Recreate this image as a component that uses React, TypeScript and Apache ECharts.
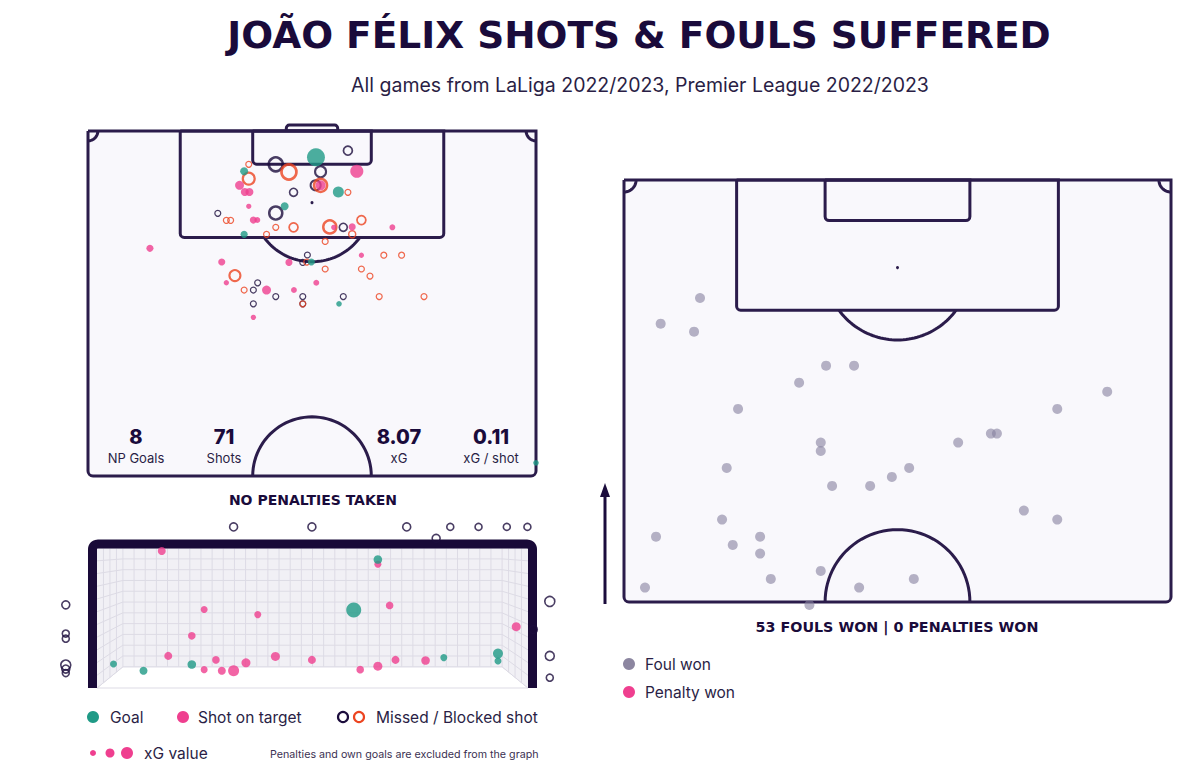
import React, { useEffect, useRef } from "react";
import * as echarts from "echarts";

// ---------- DATA ----------
// Shot map: [x across pitch (m), distance from goal line (m), xG]
const shotGoals = [
  [34.6, 4.0, 0.43], [23.7, 6.13, 0.1], [38.0, 9.28, 0.2], [29.85, 11.46, 0.1],
  [23.7, 15.72, 0.07], [33.9, 19.94, 0.07], [38.1, 26.3, 0.02], [68.0, 50.5, 0.02],
];
const shotsOnTarget = [
  [40.8, 6.13, 0.27], [23.0, 8.26, 0.13], [35.3, 8.26, 0.17], [23.8, 9.28, 0.1],
  [24.5, 9.28, 0.1], [24.4, 11.46, 0.01], [25.1, 13.55, 0.07], [25.7, 13.55, 0.03],
  [37.3, 14.66, 0.01], [40.1, 14.6, 0.07], [46.2, 14.66, 0.03], [9.4, 17.85, 0.07],
  [41.5, 18.9, 0.01], [20.3, 19.94, 0.07], [30.5, 20.0, 0.07], [21.0, 23.1, 0.01],
  [34.65, 23.1, 0.03], [27.1, 24.2, 0.13], [31.26, 24.2, 0.03], [25.1, 28.36, 0.01],
];
const shotsMissed = [
  [39.45, 3.0, 0.13], [28.5, 5.07, 0.3], [35.3, 6.2, 0.2], [34.55, 8.26, 0.17],
  [31.2, 9.33, 0.1], [19.7, 12.53, 0.03], [28.5, 12.48, 0.27], [38.75, 14.66, 0.1],
  [33.3, 18.87, 0.03], [32.6, 20.0, 0.03], [25.75, 23.1, 0.03], [25.1, 24.2, 0.03],
  [28.5, 25.2, 0.03], [32.6, 25.2, 0.03], [38.75, 25.2, 0.03], [25.1, 26.3, 0.03],
  [32.6, 26.3, 0.03],
];
const shotsBlocked = [
  [24.4, 5.07, 0.03], [30.5, 6.24, 0.33], [24.4, 7.26, 0.23], [35.3, 8.26, 0.27],
  [39.45, 9.33, 0.03], [21.0, 13.6, 0.03], [21.65, 13.6, 0.03], [28.5, 14.66, 0.03],
  [31.2, 14.66, 0.13], [36.7, 14.6, 0.27], [41.5, 13.55, 0.13], [27.1, 15.72, 0.03],
  [40.1, 15.72, 0.07], [36.0, 16.8, 0.03], [44.9, 18.9, 0.03], [47.6, 18.9, 0.03],
  [33.2, 19.94, 0.03], [36.0, 21.0, 0.03], [41.5, 21.0, 0.03], [42.8, 22.07, 0.03],
  [22.3, 22.0, 0.2], [23.7, 24.2, 0.03], [44.2, 25.2, 0.03], [51.0, 25.2, 0.03],
  [32.6, 26.3, 0.03],
];

// Goal mouth view: [x from goal centre (m), height (m), xG]
const mouthOnTarget = [
  [-2.56, 2.39, 0.1], [-1.84, 1.37, 0.05], [-0.93, 1.28, 0.05], [-2.05, 0.91, 0.08],
  [-2.45, 0.56, 0.1], [-1.64, 0.49, 0.08], [-1.84, 0.32, 0.05], [-1.54, 0.3, 0.1],
  [-1.34, 0.3, 0.25], [-1.13, 0.44, 0.15], [-0.63, 0.55, 0.15], [-0.01, 0.49, 0.1],
  [1.11, 2.16, 0.05], [1.31, 1.44, 0.08], [0.81, 0.32, 0.08], [1.11, 0.38, 0.15],
  [1.41, 0.49, 0.1], [1.92, 0.48, 0.13], [3.46, 1.07, 0.15],
];
const mouthGoals = [
  [-3.38, 0.42, 0.05], [-2.87, 0.3, 0.1], [-2.05, 0.41, 0.13], [1.11, 2.24, 0.13],
  [0.7, 1.36, 0.45], [2.23, 0.53, 0.05], [3.15, 0.6, 0.2], [3.15, 0.47, 0.05],
];
const mouthMissed = [
  [-1.34, 2.81, 0.1], [-0.01, 2.81, 0.1], [1.6, 2.81, 0.1], [2.34, 2.81, 0.05],
  [2.82, 2.81, 0.05], [3.3, 2.81, 0.05], [3.65, 2.81, 0.05], [2.1, 2.61, 0.1],
  [-4.19, 1.45, 0.1], [-4.19, 0.95, 0.05], [-4.19, 0.86, 0.05], [-4.19, 0.4, 0.2],
  [-4.19, 0.33, 0.1], [-4.19, 0.26, 0.05], [3.75, 1.02, 0.1], [4.03, 1.51, 0.2],
  [4.03, 0.56, 0.15], [4.03, 0.18, 0.05],
];

// Fouls won: [x across pitch (m), distance from goal line (m)]
const foulsWon = [
  [9.45, 14.68], [4.56, 17.87], [8.71, 18.87], [25.12, 23.1], [28.6, 23.1],
  [21.77, 25.21], [60.07, 26.33], [14.18, 28.48], [24.46, 32.67], [24.46, 33.71],
  [12.77, 35.82], [25.87, 38.06], [30.6, 38.06], [33.3, 36.94], [12.19, 42.25],
  [3.98, 44.37], [16.92, 44.37], [13.52, 45.4], [16.92, 46.48], [24.46, 48.63],
  [18.25, 49.63], [2.61, 50.71], [29.23, 50.71], [23.05, 52.86], [53.86, 28.48],
  [45.61, 31.55], [46.36, 31.55], [41.54, 32.67], [35.45, 35.82], [49.71, 41.13],
  [53.86, 42.25], [36.03, 49.63],
];

const statValues = ["8", "71", "8.07", "0.11"];
const statLabels = ["NP Goals", "Shots", "xG", "xG / shot"];

const TITLE = "JOÃO FÉLIX SHOTS & FOULS SUFFERED";
const SUBTITLE = "All games from LaLiga 2022/2023, Premier League 2022/2023";

// ---------- STYLE ----------
const TEAL = "#1f9a86";
const PINK = "#ef3f8f";
const ORANGE = "#ec4420";
const DARK = "#1b0c3c";
const LINE = "#2b1c4b";
const PITCH_FILL = "#f9f8fc";
const TEXT = "#1a0b3b";
const FONT = "Inter, 'Noto Sans', sans-serif";
const WIDE = "'DejaVu Sans', Inter, sans-serif";

// pitch geometry (m)
const PW = 68, PL = 52.5, BOX_W = 40, BOX_D = 16.2, SIX_W = 18, SIX_D = 5.05;
const SPOT = 10.9, CR = 9.0, GOAL_DRAW_HALF = 3.9, GOAL_DEPTH = 0.9;
// goal mouth geometry (m)
const GOAL_HALF = 3.66, GOAL_H = 2.44, BACK_HALF = 3.22, BACK_BOTTOM = 0.37;

function arcPts(c, cx, cy, r, a0, a1, n = 48) {
  const pts = [];
  for (let i = 0; i <= n; i++) {
    const a = a0 + ((a1 - a0) * i) / n;
    pts.push(c(cx + r * Math.cos(a), cy + r * Math.sin(a)));
  }
  return pts;
}

function pitchRenderer(withGoal, cornerR) {
  return (params, api) => {
    const c = (x, y) => api.coord([x, y]);
    const ls = { stroke: LINE, lineWidth: 3, fill: "none" };
    const ch = [];
    if (withGoal) {
      const g1 = c(PW / 2 - GOAL_DRAW_HALF, -GOAL_DEPTH);
      const g2 = c(PW / 2 + GOAL_DRAW_HALF, 0);
      ch.push({ type: "rect", shape: { x: g1[0], y: g1[1], width: g2[0] - g1[0], height: g2[1] - g1[1], r: [3, 3, 0, 0] }, style: { fill: PITCH_FILL, stroke: LINE, lineWidth: 3 } });
    }
    const tl = c(0, 0), br = c(PW, PL);
    ch.push({ type: "rect", shape: { x: tl[0], y: tl[1], width: br[0] - tl[0], height: br[1] - tl[1], r: [0, 0, 5, 5] }, style: { fill: PITCH_FILL, stroke: LINE, lineWidth: 3 } });
    const b1 = c(PW / 2 - BOX_W / 2, 0), b2 = c(PW / 2 + BOX_W / 2, BOX_D);
    ch.push({ type: "rect", shape: { x: b1[0], y: b1[1], width: b2[0] - b1[0], height: b2[1] - b1[1], r: [0, 0, 4, 4] }, style: ls });
    const s1 = c(PW / 2 - SIX_W / 2, 0), s2 = c(PW / 2 + SIX_W / 2, SIX_D);
    ch.push({ type: "rect", shape: { x: s1[0], y: s1[1], width: s2[0] - s1[0], height: s2[1] - s1[1], r: [0, 0, 4, 4] }, style: ls });
    const sp = c(PW / 2, SPOT);
    ch.push({ type: "circle", shape: { cx: sp[0], cy: sp[1], r: 1.5 }, style: { fill: LINE } });
    const t0 = Math.asin((BOX_D - SPOT) / CR);
    ch.push({ type: "polyline", shape: { points: arcPts(c, PW / 2, SPOT, CR, t0, Math.PI - t0) }, style: ls });
    ch.push({ type: "polyline", shape: { points: arcPts(c, PW / 2, PL, CR, Math.PI, 2 * Math.PI) }, style: ls });
    ch.push({ type: "polyline", shape: { points: arcPts(c, 0, 0, cornerR, 0, Math.PI / 2, 16) }, style: ls });
    ch.push({ type: "polyline", shape: { points: arcPts(c, PW, 0, cornerR, Math.PI / 2, Math.PI, 16) }, style: ls });
    return { type: "group", children: ch };
  };
}

function goalRenderer(params, api) {
  const c = (x, y) => api.coord([x, y]);
  const ch = [];
  const netLine = { stroke: "#dddbe5", lineWidth: 1, fill: "none" };
  ch.push({ type: "polygon", shape: { points: [c(-GOAL_HALF, 0), c(-BACK_HALF, BACK_BOTTOM), c(BACK_HALF, BACK_BOTTOM), c(GOAL_HALF, 0)] }, style: { fill: "#ffffff", stroke: "#dddbe5", lineWidth: 1 } });
  const bl = c(-BACK_HALF, GOAL_H), brr = c(BACK_HALF, BACK_BOTTOM);
  ch.push({ type: "rect", shape: { x: bl[0], y: bl[1], width: brr[0] - bl[0], height: brr[1] - bl[1] }, style: { fill: "#f1f0f5" } });
  ch.push({ type: "polygon", shape: { points: [c(-GOAL_HALF, 0), c(-GOAL_HALF, GOAL_H), c(-BACK_HALF, GOAL_H), c(-BACK_HALF, BACK_BOTTOM)] }, style: { fill: "#f1f0f5" } });
  ch.push({ type: "polygon", shape: { points: [c(GOAL_HALF, 0), c(GOAL_HALF, GOAL_H), c(BACK_HALF, GOAL_H), c(BACK_HALF, BACK_BOTTOM)] }, style: { fill: "#f1f0f5" } });
  const NX = 34, NY = 11;
  for (let i = 0; i <= NX; i++) {
    const x = -BACK_HALF + (2 * BACK_HALF * i) / NX;
    ch.push({ type: "line", shape: { x1: c(x, BACK_BOTTOM)[0], y1: c(x, BACK_BOTTOM)[1], x2: c(x, GOAL_H)[0], y2: c(x, GOAL_H)[1] }, style: netLine });
  }
  for (let j = 0; j <= NY; j++) {
    const y = BACK_BOTTOM + ((GOAL_H - BACK_BOTTOM) * j) / NY;
    const yf = GOAL_H - ((GOAL_H - y) * GOAL_H) / (GOAL_H - BACK_BOTTOM);
    ch.push({ type: "polyline", shape: { points: [c(-GOAL_HALF, yf), c(-BACK_HALF, y), c(BACK_HALF, y), c(GOAL_HALF, yf)] }, style: netLine });
  }
  for (let k = 1; k <= 3; k++) {
    const t = k / 4;
    for (const s of [-1, 1]) {
      const x = s * (GOAL_HALF - t * (GOAL_HALF - BACK_HALF));
      ch.push({ type: "polyline", shape: { points: [c(x, t * BACK_BOTTOM), c(x, GOAL_H)] }, style: netLine });
    }
  }
  const half = 4.5, r = 5;
  const lx = c(-GOAL_HALF, 0)[0] - half;
  const rx = c(GOAL_HALF, 0)[0] + half;
  const by = c(0, 0)[1];
  const ty = c(0, GOAL_H)[1] - 4;
  const pts = [[lx, by], [lx, ty + r]];
  for (let i = 0; i <= 8; i++) {
    const a = Math.PI + (Math.PI / 2) * (i / 8);
    pts.push([lx + r + r * Math.cos(a), ty + r + r * Math.sin(a)]);
  }
  for (let i = 0; i <= 8; i++) {
    const a = -Math.PI / 2 + (Math.PI / 2) * (i / 8);
    pts.push([rx - r + r * Math.cos(a), ty + r + r * Math.sin(a)]);
  }
  pts.push([rx, by]);
  ch.push({ type: "polyline", shape: { points: pts }, style: { stroke: "#190a38", lineWidth: 9, fill: "none", lineJoin: "round" } });
  return { type: "group", children: ch };
}

const filled = (arr, color, sizeFn) => arr.map(([x, y, xg]) => ({ value: [x, y], symbolSize: sizeFn(xg), itemStyle: { color } }));
const rings = (arr, color, sizeFn, bwFn) => arr.map(([x, y, xg]) => ({ value: [x, y], symbolSize: sizeFn(xg), itemStyle: { color: "rgba(0,0,0,0)", borderColor: color, borderWidth: bwFn(xg) } }));

const mapSize = (xg) => 5 + 30 * xg;
const mapBw = (xg) => 1.1 + 5 * xg;
const mouthSize = (xg) => 6 + 20 * xg;

function txt(x, y, text, size, weight, color, align = "center", family = FONT) {
  return {
    type: "text", x, y, z: 50, silent: true,
    style: { text, fill: color, fontSize: size, fontWeight: weight, fontFamily: family, textAlign: align, textVerticalAlign: "middle", align, verticalAlign: "middle" },
  };
}
const dot = (cx, cy, r, fill) => ({ type: "circle", z: 50, shape: { cx, cy, r }, style: { fill }, silent: true });
const ring = (cx, cy, r, stroke) => ({ type: "circle", z: 50, shape: { cx, cy, r }, style: { fill: "none", stroke, lineWidth: 2.2 }, silent: true });

export default function App() {
  const ref = useRef(null);
  useEffect(() => {
    const chart = echarts.init(ref.current, null, { renderer: "svg" });
    const statX = [136, 224, 399, 491];
    const body = "#2a1e45";
    const graphic = [
      txt(639, 35, TITLE, 37.5, "bold", TEXT, "center", WIDE),
      txt(640, 85, SUBTITLE, 19.5, 400, body),
      ...statValues.map((v, i) => txt(statX[i], 437, v, 20, 800, TEXT)),
      ...statLabels.map((v, i) => txt(statX[i], 458, v, 13, 400, body)),
      txt(313, 500, "NO PENALTIES TAKEN", 14, "bold", TEXT, "center", WIDE),
      txt(897, 627, "53 FOULS WON | 0 PENALTIES WON", 14.3, "bold", TEXT, "center", WIDE),
      { type: "line", z: 50, shape: { x1: 605, y1: 604, x2: 605, y2: 494 }, style: { stroke: DARK, lineWidth: 3 }, silent: true },
      { type: "polygon", z: 50, shape: { points: [[600, 497], [610, 497], [605, 483]] }, style: { fill: DARK }, silent: true },
      dot(629, 664, 6, "#8c86a0"), txt(645, 664, "Foul won", 15.5, 400, body, "left"),
      dot(629, 692, 6, PINK), txt(645, 692, "Penalty won", 15.5, 400, body, "left"),
      dot(93, 717, 6, TEAL), txt(110, 717, "Goal", 15.5, 400, body, "left"),
      dot(183, 717, 6, PINK), txt(198, 717, "Shot on target", 15.5, 400, body, "left"),
      ring(343, 717, 5, DARK), ring(359, 717, 5, ORANGE), txt(376, 717, "Missed / Blocked shot", 15.5, 400, body, "left"),
      dot(93, 753, 3, PINK), dot(110, 753, 4.5, PINK), dot(127, 753, 6, PINK),
      txt(144, 753, "xG value", 15.5, 400, body, "left"),
      txt(270, 754, "Penalties and own goals are excluded from the graph", 10.7, 400, "#3b3152", "left"),
    ];
    chart.setOption({
      animation: false,
      backgroundColor: "#ffffff",
      grid: [
        { left: 88, top: 131, width: 448, height: 345 },
        { left: 624, top: 180, width: 547, height: 422 },
        { left: 40, top: 516, width: 545, height: 172 },
      ],
      xAxis: [
        { gridIndex: 0, type: "value", min: 0, max: PW, show: false },
        { gridIndex: 1, type: "value", min: 0, max: PW, show: false },
        { gridIndex: 2, type: "value", min: -4.628, max: 4.628, show: false },
      ],
      yAxis: [
        { gridIndex: 0, type: "value", min: 0, max: PL, inverse: true, show: false },
        { gridIndex: 1, type: "value", min: 0, max: PL, inverse: true, show: false },
        { gridIndex: 2, type: "value", min: 0, max: 3, show: false },
      ],
      graphic,
      series: [
        { type: "custom", xAxisIndex: 0, yAxisIndex: 0, data: [[0, 0]], clip: false, silent: true, renderItem: pitchRenderer(true, 1.5), z: 1 },
        { type: "custom", xAxisIndex: 1, yAxisIndex: 1, data: [[0, 0]], clip: false, silent: true, renderItem: pitchRenderer(false, 1.5), z: 1 },
        { type: "custom", xAxisIndex: 2, yAxisIndex: 2, data: [[0, 0]], clip: false, silent: true, renderItem: goalRenderer, z: 1 },
        { type: "scatter", xAxisIndex: 0, yAxisIndex: 0, clip: false, silent: true, z: 3, data: rings(shotsMissed, DARK, mapSize, mapBw) },
        { type: "scatter", xAxisIndex: 0, yAxisIndex: 0, clip: false, silent: true, z: 3, data: rings(shotsBlocked, ORANGE, mapSize, mapBw) },
        { type: "scatter", xAxisIndex: 0, yAxisIndex: 0, clip: false, silent: true, z: 3, data: filled(shotsOnTarget, PINK, mapSize) },
        { type: "scatter", xAxisIndex: 0, yAxisIndex: 0, clip: false, silent: true, z: 3, data: filled(shotGoals, TEAL, mapSize) },
        { type: "scatter", xAxisIndex: 1, yAxisIndex: 1, clip: false, silent: true, z: 3, symbolSize: 10, itemStyle: { color: "#86809f", opacity: 0.6 }, data: foulsWon },
        { type: "scatter", xAxisIndex: 2, yAxisIndex: 2, clip: false, silent: true, z: 3, data: rings(mouthMissed, DARK, mouthSize, () => 1.6) },
        { type: "scatter", xAxisIndex: 2, yAxisIndex: 2, clip: false, silent: true, z: 3, data: filled(mouthOnTarget, PINK, mouthSize) },
        { type: "scatter", xAxisIndex: 2, yAxisIndex: 2, clip: false, silent: true, z: 3, data: filled(mouthGoals, TEAL, mouthSize) },
      ],
    });
    return () => chart.dispose();
  }, []);
  return <div ref={ref} style={{ position: "absolute", left: 0, top: 0, width: 1203, height: 778 }} />;
}
